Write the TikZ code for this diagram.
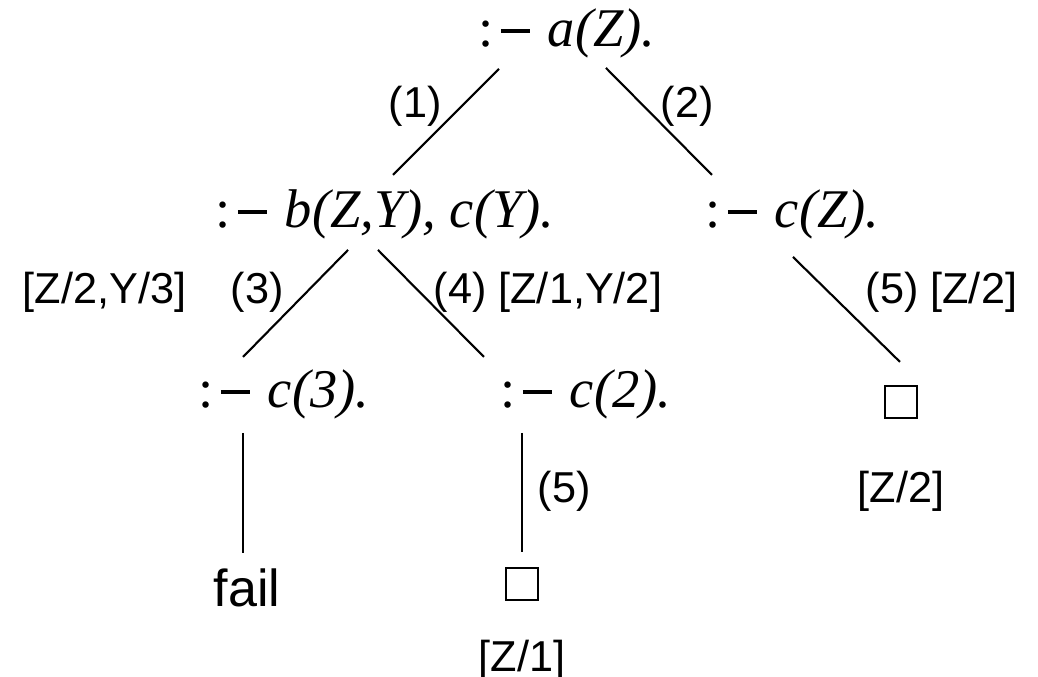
\documentclass[tikz,border=0pt]{standalone}
\usepackage{fontspec}
\setmainfont{Liberation Serif}
\setsansfont{Liberation Sans}
\usetikzlibrary{calc}

\newcommand{\goalneck}{:\kern0.13em\rule[0.25em]{0.53em}{0.075em}\kern0.33em}

\begin{document}
\begin{tikzpicture}[x=0.01cm,y=-0.01cm,
  goal/.style={anchor=base west,inner sep=0pt,font=\fontsize{15.5}{18}\selectfont},
  lab/.style={anchor=base west,inner sep=0pt,font=\sffamily\fontsize{12.3}{15}\selectfont},
  emptyclause/.style={draw,line width=0.6pt,minimum size=0.32cm,inner sep=0pt},
  branch/.style={line width=0.6pt}]
  \useasboundingbox (0,0) rectangle (1038,677);
  \node[goal] (root) at (478,47)  {\goalneck\textit{a(Z).}};
  \node[goal] (bzy)  at (215,228) {\goalneck\textit{b(Z,Y), c(Y).}};
  \node[goal] (cz)   at (705,228) {\goalneck\textit{c(Z).}};
  \node[goal] (c3)   at (198,408) {\goalneck\textit{c(3).}};
  \node[goal] (c2)   at (500,408) {\goalneck\textit{c(2).}};
  \node[lab,font=\sffamily\fontsize{14.8}{17}\selectfont] (fail) at (213,607) {fail};
  \node[emptyclause] (box2) at (522,584) {};
  \node[emptyclause] (box1) at (901,402) {};
  \node[lab] (sub1) at (478,672) {[Z/1]};
  \node[lab] (sub2) at (857,503) {[Z/2]};
  \node[lab] (l1) at (388,118) {(1)};
  \node[lab] (l2) at (660,118) {(2)};
  \node[lab] (l3s) at (22,304) {[Z/2,Y/3]};
  \node[lab] (l3) at (230,304) {(3)};
  \node[lab] (l4) at (433,304) {(4) [Z/1,Y/2]};
  \node[lab] (l5) at (865,304) {(5) [Z/2]};
  \node[lab] (l5b) at (537,503) {(5)};
  \draw[branch] ($(root.base west)+(21,22)$) -- ($(bzy.base west)+(178,-53)$);
  \draw[branch] ($(root.base west)+(128,21)$) -- ($(cz.base west)+(7,-53)$);
  \draw[branch] ($(bzy.base west)+(133,22)$) -- ($(c3.base west)+(45,-51)$);
  \draw[branch] ($(bzy.base west)+(163,22)$) -- ($(c2.base west)+(-16,-51)$);
  \draw[branch] ($(cz.base west)+(88,29)$) -- ($(box1.north)+(-1,-23)$);
  \draw[branch] ($(c3.base west)+(45,25)$) -- ($(fail.base west)+(30,-54)$);
  \draw[branch] ($(c2.base west)+(22,25)$) -- ($(box2.north)+(0,-15)$);
\end{tikzpicture}
\end{document}
